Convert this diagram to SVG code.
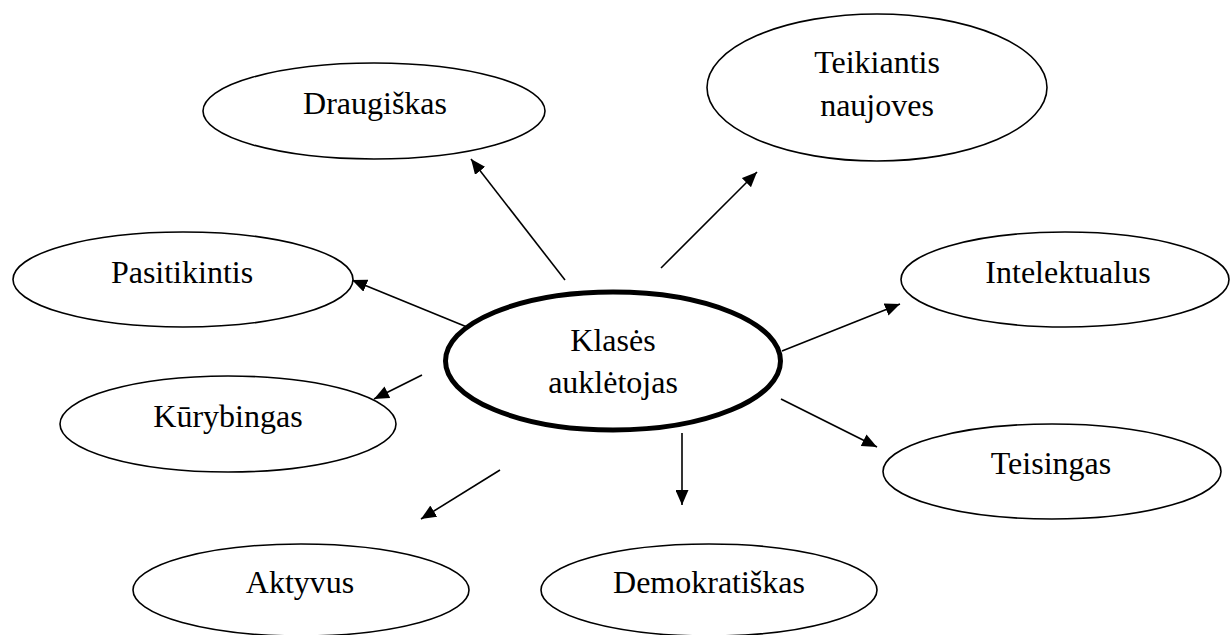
<svg xmlns="http://www.w3.org/2000/svg" width="1230" height="635" viewBox="0 0 1230 635">
<style>
.n{fill:#fff;stroke:#000;stroke-width:1.6}
.c{fill:#fff;stroke:#000;stroke-width:5}
.t{font-family:"Liberation Serif","Times New Roman",serif;font-size:32px;fill:#000;text-anchor:middle}
.e{stroke:#000;stroke-width:1.6;fill:none;marker-end:url(#a)}
</style>
<defs>
<marker id="a" markerUnits="userSpaceOnUse" markerWidth="16" markerHeight="13" refX="15" refY="6.5" orient="auto">
<path d="M0,0 L15,6.5 L0,13 z" fill="#000"/>
</marker>
</defs>
<rect width="1230" height="635" fill="#fff"/>
<g id="connectors">
<line class="e" x1="565" y1="280" x2="471" y2="159"/>
<line class="e" x1="661" y1="268" x2="757" y2="172"/>
<line class="e" x1="467" y1="327" x2="352" y2="280"/>
<line class="e" x1="422" y1="375" x2="374" y2="399"/>
<line class="e" x1="500" y1="470" x2="421" y2="519"/>
<line class="e" x1="682" y1="433" x2="682" y2="505"/>
<line class="e" x1="782" y1="351" x2="900" y2="304"/>
<line class="e" x1="781" y1="399" x2="877" y2="447"/>
</g>
<g id="draugiskas"><ellipse class="n" cx="374" cy="111" rx="171" ry="48"/><text class="t" x="375" y="114">Draugiškas</text></g>
<g id="teikiantis"><ellipse class="n" cx="877" cy="87.5" rx="170" ry="73.5"/><text class="t" x="877" y="73">Teikiantis</text><text class="t" x="877" y="116">naujoves</text></g>
<g id="pasitikintis"><ellipse class="n" cx="183" cy="279.5" rx="170" ry="47.5"/><text class="t" x="182" y="283">Pasitikintis</text></g>
<g id="intelektualus"><ellipse class="n" cx="1065" cy="279.5" rx="164" ry="47.5"/><text class="t" x="1068" y="283">Intelektualus</text></g>
<g id="klases"><ellipse class="c" cx="613" cy="361" rx="167.5" ry="69"/><text class="t" x="613" y="351">Klasės</text><text class="t" x="613" y="393">auklėtojas</text></g>
<g id="kurybingas"><ellipse class="n" cx="228" cy="424" rx="168" ry="48"/><text class="t" x="228" y="427">Kūrybingas</text></g>
<g id="teisingas"><ellipse class="n" cx="1052" cy="471.5" rx="169" ry="47.5"/><text class="t" x="1051" y="474">Teisingas</text></g>
<g id="aktyvus"><ellipse class="n" cx="301" cy="590" rx="168" ry="46"/><text class="t" x="300" y="593">Aktyvus</text></g>
<g id="demokratiskas"><ellipse class="n" cx="709" cy="590" rx="168" ry="46"/><text class="t" x="709" y="593">Demokratiškas</text></g>
</svg>
